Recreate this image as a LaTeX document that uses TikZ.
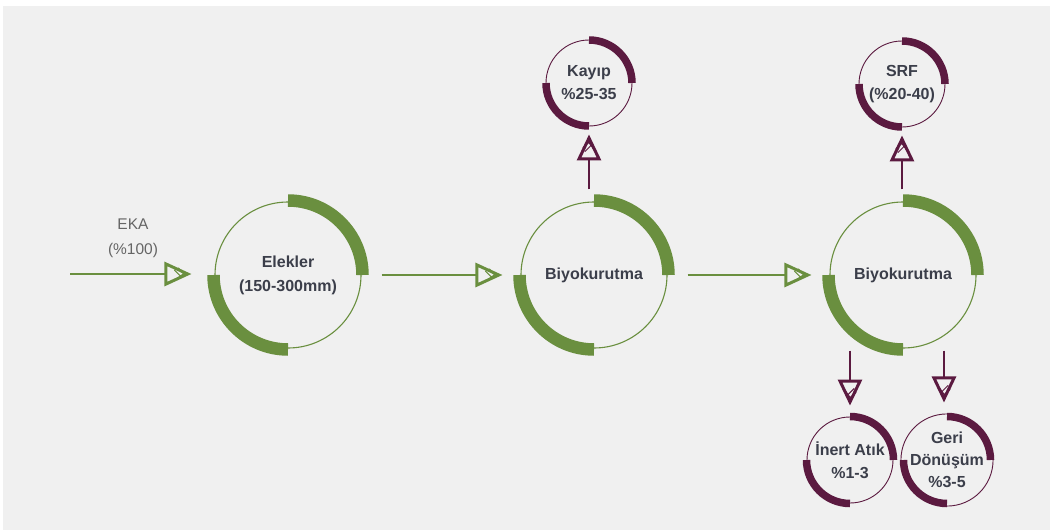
\documentclass[tikz,border=0pt]{standalone}
\usepackage{fontspec}
\setmainfont{Liberation Sans}
\usetikzlibrary{arrows.meta}
\definecolor{bggray}{HTML}{F0F0F0}
\definecolor{leaf}{HTML}{6A8F3F}
\definecolor{wine}{HTML}{5B1A40}
\definecolor{ink}{HTML}{3B3E4A}
\definecolor{soft}{HTML}{656565}
\newcommand\ringarcs[4]{%
  \draw[#4, line width=#3] ([shift={(0:#2)}]#1.center) arc[start angle=0,end angle=90,radius=#2];
  \draw[#4, line width=#3] ([shift={(180:#2)}]#1.center) arc[start angle=180,end angle=270,radius=#2];}
\begin{document}
\begin{tikzpicture}[x=1pt,y=1pt,
  bigstep/.style={circle, draw=leaf, line width=1.1pt, minimum size=146pt, inner sep=0pt,
    text=ink, font=\bfseries\fontsize{16}{24}\selectfont, align=center},
  smallstep/.style={circle, draw=wine, line width=0.9pt, minimum size=86pt, inner sep=0pt,
    text=ink, font=\bfseries\fontsize{16}{23}\selectfont, align=center},
  garrow/.style={draw=leaf, line width=2.8pt, -{Triangle[open, length=27pt, width=24pt, line width=3pt]}},
  warrow/.style={draw=wine, line width=2.6pt, -{Triangle[open, length=26pt, width=24pt, line width=3pt]}},
  ekatext/.style={text=soft, font=\fontsize{15.5}{25}\selectfont, align=center},
  scribble/.pic={\draw[line width=1pt, line cap=round, line join=round]
     (-17,4) -- (-10,-3) -- (-15,-5) -- (-7,1) (-13,6) -- (-7,-1);}
]
\useasboundingbox (0,0) rectangle (1050,-530);
\fill[white] (0,0) rectangle (1050,-530);
\fill[bggray] (3,-6) rectangle (1050,-530);

\node[bigstep] (c1) at (288,-275) {Elekler\\(150-300mm)};
\node[bigstep] (c2) at (594,-275) {Biyokurutma};
\node[bigstep] (c3) at (903,-275) {Biyokurutma};
\node[smallstep] (kayip) at (589,-83) {Kayıp\\\%25-35};
\node[smallstep] (srf) at (902,-84) {SRF\\(\%20-40)};
\node[smallstep] (inert) at (850,-460) {İnert Atık\\\%1-3};
\node[smallstep, font=\bfseries\fontsize{16}{22}\selectfont] (geri) at (947,-460) {Geri\\Dönüşüm\\\%3-5};

\ringarcs{c1}{74.5pt}{12.5pt}{leaf}
\ringarcs{c2}{74.5pt}{12.5pt}{leaf}
\ringarcs{c3}{74.5pt}{12.5pt}{leaf}
\ringarcs{kayip}{43pt}{7.5pt}{wine}
\ringarcs{srf}{43pt}{7.5pt}{wine}
\ringarcs{inert}{43.5pt}{7.5pt}{wine}
\ringarcs{geri}{43.5pt}{7.5pt}{wine}

\node[ekatext] (eka) at (133,-238) {EKA\\(\%100)};
\coordinate (ekastart) at (70,-274);
\draw[garrow, shorten >=23pt] (ekastart) -- (ekastart -| c1.west);
\draw[garrow, shorten <=20pt, shorten >=18pt] (c1.east) -- (c2.west);
\draw[garrow, shorten <=20pt, shorten >=18pt] (c2.east) -- (c3.west);

\pic[leaf] at ([xshift=-23pt]ekastart -| c1.west) {scribble};
\pic[leaf] at ([xshift=-18pt]c2.west) {scribble};
\pic[leaf] at ([xshift=-18pt]c3.west) {scribble};

\draw[warrow, shorten <=12pt, shorten >=8pt] (kayip.south |- c2.north) -- (kayip.south);
\draw[warrow, shorten <=12pt, shorten >=8pt] (srf.south |- c3.north) -- (srf.south);
\draw[warrow, shorten <=2pt, shorten >=11pt] (inert.north |- c3.south) -- (inert.north);
\draw[warrow, shorten <=2pt, shorten >=11pt] ([xshift=-3pt]geri.north |- c3.south) -- ([xshift=-3pt]geri.north);

\pic[wine, rotate=90] at ([yshift=-8pt]kayip.south) {scribble};
\pic[wine, rotate=90] at ([yshift=-8pt]srf.south) {scribble};
\pic[wine, rotate=-90] at ([yshift=11pt]inert.north) {scribble};
\pic[wine, rotate=-90] at ([xshift=-3pt,yshift=11pt]geri.north) {scribble};
\end{tikzpicture}
\end{document}
